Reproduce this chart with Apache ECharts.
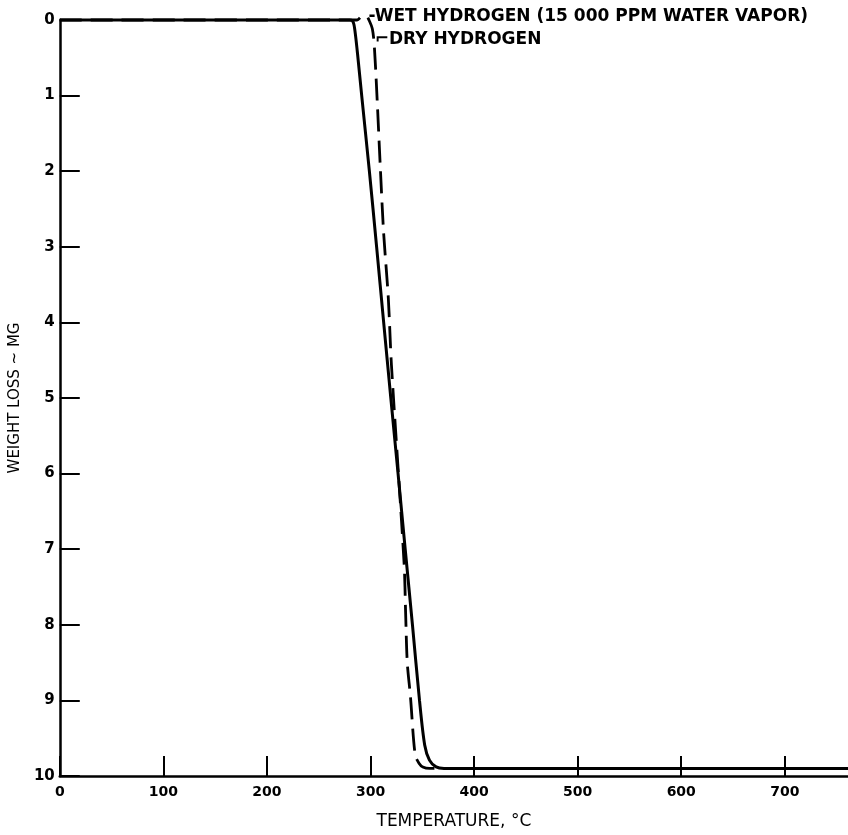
<!DOCTYPE html>
<html>
<head>
<meta charset="utf-8">
<script src="https://cdn.jsdelivr.net/npm/echarts@6/dist/echarts.min.js"></script>
<style>
html,body{margin:0;padding:0;background:#fff;}
#chart{width:848px;height:835px;}
</style>
</head>
<body>
<div id="chart"></div>
<script>
// Wet hydrogen (solid curve): temperature (°C) and weight loss (mg)
const wetTemp = [0, 280, 282.5, 284, 285.5, 287.5, 291.5, 298.9, 305.9, 312.7, 319.6, 326.6, 333.5, 340.5, 347.3, 352.3, 356.9, 363.3, 371, 761];
const wetLoss = [0, 0, 0.01, 0.06, 0.2, 0.45, 1.0, 2.0, 3.0, 4.0, 5.0, 6.0, 7.0, 8.0, 9.0, 9.59, 9.79, 9.88, 9.9, 9.9];
// Dry hydrogen (dashed curve)
const dryTemp = [0, 287, 292, 296, 298.5, 301.8, 303.7, 306.4, 309.4, 312.6, 317.2, 320.2, 332.4, 333.9, 335.5, 338.5, 343.1, 346.8, 350.5, 357, 761];
const dryLoss = [0, 0, -0.05, -0.05, 0.0, 0.12, 0.35, 1.05, 1.93, 2.8, 3.68, 4.56, 7.18, 7.84, 8.5, 8.94, 9.72, 9.83, 9.88, 9.9, 9.9];
// Axis ticks
const xTicks = [0, 100, 200, 300, 400, 500, 600, 700];
const yTicks = [0, 1, 2, 3, 4, 5, 6, 7, 8, 9, 10];
// Annotations
const wetLabel = '-WET HYDROGEN (15 000 PPM WATER VAPOR)';
const dryLabel = '⌐DRY HYDROGEN';
const wetLabelAt = [298, 0];
const dryLabelAt = [304, 0.26];

const pairs = (xs, ys) => xs.map((x, i) => [x, ys[i]]);
const FONT = 'DejaVu Sans';

const chart = echarts.init(document.getElementById('chart'), null, {renderer: 'canvas'});
chart.setOption({
  backgroundColor: '#ffffff',
  animation: false,
  grid: {left: 53, right: 0, top: 20, bottom: 54, containLabel: false},
  xAxis: {
    type: 'value', min: 0, max: 761, interval: 100,
    name: 'TEMPERATURE, °C', nameLocation: 'middle', nameGap: 37,
    nameTextStyle: {color: '#000', fontSize: 17, fontFamily: FONT},
    axisLine: {show: true, onZero: false, lineStyle: {color: '#000', width: 2.5}},
    axisTick: {show: true, inside: true, length: 20, lineStyle: {color: '#000', width: 2}},
    axisLabel: {color: '#000', fontSize: 14, fontWeight: 'bold', fontFamily: FONT, margin: 9,
      showMaxLabel: false,
      formatter: v => xTicks.indexOf(v) >= 0 ? String(v) : ''},
    splitLine: {show: false}
  },
  yAxis: {
    type: 'value', inverse: true, min: 0, max: 10, interval: 1,
    name: 'WEIGHT LOSS ~ MG', nameLocation: 'middle', nameGap: 20,
    nameTextStyle: {color: '#000', fontSize: 15, fontFamily: FONT},
    axisLine: {show: true, onZero: false, lineStyle: {color: '#000', width: 2.5}},
    axisTick: {show: true, inside: true, length: 20, lineStyle: {color: '#000', width: 2}},
    axisLabel: {color: '#000', fontSize: 15, fontWeight: 'bold', fontFamily: FONT, margin: 5,
      formatter: v => yTicks.indexOf(v) >= 0 ? String(v) : ''},
    splitLine: {show: false}
  },
  series: [
    {
      name: 'Dry hydrogen', type: 'line', data: pairs(dryTemp, dryLoss),
      showSymbol: false, symbol: 'none', smooth: 0.3, clip: false,
      lineStyle: {color: '#000', width: 2.8, type: [22, 9]},
      markPoint: {
        symbol: 'circle', symbolSize: 0,
        data: [{coord: dryLabelAt, label: {show: true, position: 'right', distance: 0,
          formatter: dryLabel, color: '#000', fontSize: 17, fontWeight: 'bold', fontFamily: FONT}}]
      }
    },
    {
      name: 'Wet hydrogen', type: 'line', data: pairs(wetTemp, wetLoss),
      showSymbol: false, symbol: 'none', smooth: 0.3, clip: false,
      lineStyle: {color: '#000', width: 3},
      markPoint: {
        symbol: 'circle', symbolSize: 0,
        data: [{coord: wetLabelAt, label: {show: true, position: 'right', distance: 0, offset: [0, -3],
          formatter: wetLabel, color: '#000', fontSize: 17, fontWeight: 'bold', fontFamily: FONT}}]
      }
    }
  ]
});
</script>
</body>
</html>
